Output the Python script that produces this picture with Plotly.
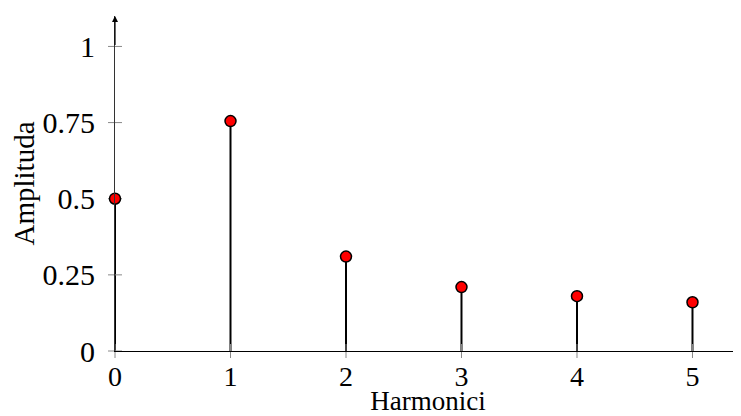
import plotly.graph_objects as go

harmonics = [0, 1, 2, 3, 4, 5]
amplitudes = [0.5, 0.755, 0.31, 0.21, 0.18, 0.16]
y_ticks = [0, 0.25, 0.5, 0.75, 1]
y_tick_labels = ["0", "0.25", "0.5", "0.75", "1"]
x_ticks = [0, 1, 2, 3, 4, 5]

FONT = "Liberation Serif"

fig = go.Figure()

# stems
sx, sy = [], []
for h, a in zip(harmonics, amplitudes):
    sx += [h, h, None]
    sy += [0, a, None]
fig.add_trace(go.Scatter(x=sx, y=sy, mode="lines",
                         line=dict(color="black", width=2),
                         hoverinfo="skip", showlegend=False, cliponaxis=False))

# crossing tick marks
fig.add_trace(go.Scatter(x=[0] * len(y_ticks), y=y_ticks, mode="markers",
                         marker=dict(symbol="line-ew", size=10,
                                     line=dict(color="#888888", width=1)),
                         hoverinfo="skip", showlegend=False, cliponaxis=False))
fig.add_trace(go.Scatter(x=x_ticks, y=[0] * len(x_ticks), mode="markers",
                         marker=dict(symbol="line-ns", size=10,
                                     line=dict(color="#888888", width=1)),
                         hoverinfo="skip", showlegend=False, cliponaxis=False))

# markers
fig.add_trace(go.Scatter(x=harmonics, y=amplitudes, mode="markers",
                         marker=dict(color="red", size=11,
                                     line=dict(color="black", width=1.5)),
                         showlegend=False, cliponaxis=False))

# y-axis arrow
fig.add_annotation(x=0, y=1.1, ax=0, ay=1.0, xref="x", yref="y",
                   axref="x", ayref="y", showarrow=True, arrowhead=2,
                   arrowsize=1, arrowwidth=1.2, arrowcolor="black", text="")

fig.update_layout(
    width=733, height=408,
    margin=dict(l=107, r=0, t=8, b=65),
    plot_bgcolor="white", paper_bgcolor="white",
    font=dict(family=FONT, color="black", size=28),
    xaxis=dict(range=[0, 5.42], tickvals=x_ticks,
               ticktext=[str(v) for v in x_ticks],
               showgrid=False, zeroline=False, showline=True,
               linecolor="black", linewidth=1.2, ticks="",
               tickfont=dict(size=28, family=FONT),
               ticklabelstandoff=0, automargin=False,
               title=dict(text="Harmonici", font=dict(size=27, family=FONT),
                          standoff=6)),
    yaxis=dict(range=[0, 1.1], tickvals=y_ticks, ticktext=y_tick_labels,
               showgrid=False, zeroline=False, showline=True,
               linecolor="#333333", linewidth=1, ticks="",
               tickfont=dict(size=30, family=FONT),
               ticklabelstandoff=13, automargin=False,
               title=dict(text="Amplituda", font=dict(size=29, family=FONT),
                          standoff=2)),
)

fig.write_html("out.html")
